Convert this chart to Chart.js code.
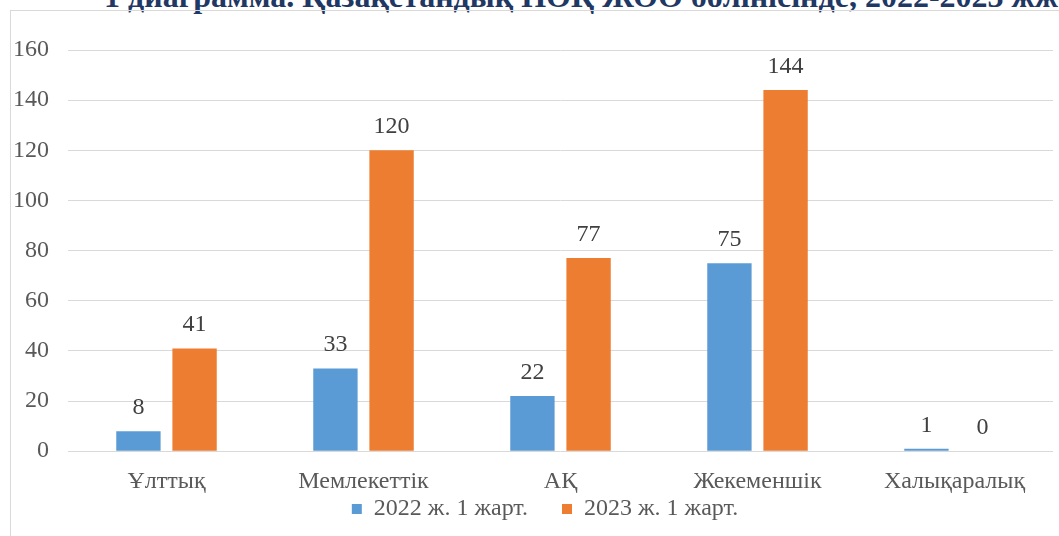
<!DOCTYPE html>
<html>
<head>
<meta charset="utf-8">
<script src="https://cdn.jsdelivr.net/npm/chart.js@4.4.0/dist/chart.umd.min.js"></script>
<style>
    html, body { margin: 0; padding: 0; background: #fff; }
    body { width: 1059px; height: 536px; overflow: hidden; position: relative; }
    #title {
        position: absolute; left: 104px; top: -20px;
        font: bold 32px "Liberation Serif", "Times New Roman", serif;
        line-height: 32px; color: #1F3864; white-space: nowrap;
    }
    #box {
        position: absolute; left: 10px; top: 10px;
        width: 1100px; height: 600px;
        border: 1px solid #d9d9d9;
    }
    #wrap { position: absolute; left: 0; top: 0; width: 1068px; height: 569px; }
</style>
</head>
<body>
<div id="title">1 диаграмма. Қазақстандық НОҚ ЖОО бөлінісінде, 2022-2023 жж.</div>
<div id="box">
    <div id="wrap"><canvas id="chart"></canvas></div>
</div>
<script>
// Данные диаграммы
const categories = ['Ұлттық', 'Мемлекеттік', 'АҚ', 'Жекеменшік', 'Халықаралық'];
const values2022 = [8, 33, 22, 75, 1];
const values2023 = [41, 120, 77, 144, 0];
const seriesNames = ['2022 ж. 1 жарт.', '2023 ж. 1 жарт.'];
const yTicks = [0, 20, 40, 60, 80, 100, 120, 140, 160];

const serif = '"Liberation Serif", "Times New Roman", serif';

// Подписи значений над столбцами
const valueLabels = {
    id: 'valueLabels',
    afterDatasetsDraw(chart) {
        const ctx = chart.ctx;
        ctx.save();
        ctx.font = '24px ' + serif;
        ctx.fillStyle = '#404040';
        ctx.textAlign = 'center';
        ctx.textBaseline = 'alphabetic';
        chart.data.datasets.forEach((ds, i) => {
            chart.getDatasetMeta(i).data.forEach((bar, j) => {
                ctx.fillText(String(ds.data[j]), bar.x, bar.y - 17);
            });
        });
        ctx.restore();
    }
};

// Легенда: padding нужен для промежутка между элементами,
// а по вертикали подтягиваем её ближе к подписям оси
const legendShift = {
    id: 'legendShift',
    afterLayout(chart) {
        const lg = chart.legend;
        if (!lg) return;
        lg.top -= 49;
        lg.bottom -= 49;
        lg.left += 13;
        lg.right += 13;
    }
};

new Chart(document.getElementById('chart'), {
    type: 'bar',
    data: {
        labels: categories,
        datasets: [
            { label: seriesNames[0], data: values2022, backgroundColor: '#5B9BD5' },
            { label: seriesNames[1], data: values2023, backgroundColor: '#ED7D31' }
        ]
    },
    options: {
        responsive: true,
        maintainAspectRatio: false,
        animation: false,
        devicePixelRatio: 1,
        categoryPercentage: 0.57,
        barPercentage: 0.79,
        layout: { padding: { top: 39, right: 26, left: 0, bottom: 0 } },
        plugins: {
            legend: {
                position: 'bottom',
                labels: {
                    font: { family: serif, size: 24 },
                    color: '#595959',
                    boxWidth: 10,
                    boxHeight: 10,
                    padding: 34
                }
            },
            tooltip: { enabled: false }
        },
        scales: {
            x: {
                grid: { display: false, drawTicks: false },
                border: { display: false },
                ticks: {
                    font: { family: serif, size: 24 },
                    color: '#595959',
                    padding: 16,
                    maxRotation: 0
                }
            },
            y: {
                min: 0,
                max: 160,
                afterFit(scale) { scale.width = 57; },
                afterBuildTicks(scale) { scale.ticks = yTicks.map(v => ({ value: v })); },
                grid: { color: '#d9d9d9', lineWidth: 1, drawTicks: false },
                border: { display: false },
                ticks: {
                    font: { family: serif, size: 24 },
                    color: '#595959',
                    padding: 19
                }
            }
        }
    },
    plugins: [valueLabels, legendShift]
});
</script>
</body>
</html>
